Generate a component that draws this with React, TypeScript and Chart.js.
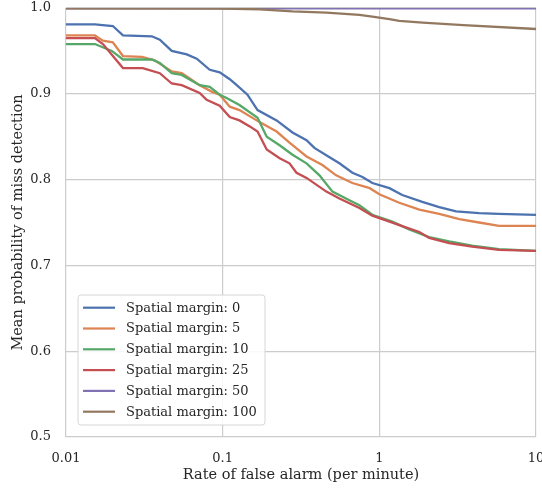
import React, { useEffect, useRef } from "react";
import { Chart, registerables } from "chart.js";

Chart.register(...registerables);

// ---- Data ----
const seriesLabels = [
  "Spatial margin: 0",
  "Spatial margin: 5",
  "Spatial margin: 10",
  "Spatial margin: 25",
  "Spatial margin: 50",
  "Spatial margin: 100",
];

const m0X = [0.01, 0.0153, 0.0199, 0.0231, 0.0353, 0.0397, 0.0473, 0.059, 0.0683, 0.0827, 0.0957, 0.111, 0.123, 0.144, 0.167, 0.221, 0.279, 0.343, 0.385, 0.481, 0.556, 0.673, 0.78, 0.902, 1.16, 1.4, 1.88, 2.41, 3.09, 4.33, 5.81, 10];
const m0Y = [0.981, 0.981, 0.979, 0.968, 0.967, 0.963, 0.95, 0.946, 0.941, 0.928, 0.925, 0.917, 0.91, 0.899, 0.881, 0.869, 0.855, 0.846, 0.837, 0.826, 0.819, 0.808, 0.803, 0.796, 0.79, 0.782, 0.774, 0.768, 0.763, 0.761, 0.76, 0.759];

const m5X = [0.01, 0.0153, 0.0172, 0.0199, 0.0231, 0.0305, 0.0368, 0.0473, 0.0548, 0.0713, 0.0862, 0.0957, 0.111, 0.128, 0.172, 0.221, 0.267, 0.343, 0.433, 0.53, 0.673, 0.868, 1.0, 1.34, 1.8, 2.41, 3.24, 4.33, 5.81, 10];
const m5Y = [0.968, 0.968, 0.962, 0.96, 0.944, 0.943, 0.939, 0.926, 0.924, 0.91, 0.902, 0.899, 0.885, 0.881, 0.867, 0.856, 0.843, 0.827, 0.817, 0.805, 0.796, 0.79, 0.783, 0.773, 0.765, 0.76, 0.754, 0.75, 0.746, 0.746];

const m10X = [0.01, 0.0153, 0.0196, 0.0231, 0.0353, 0.0397, 0.0473, 0.0548, 0.0713, 0.0827, 0.0957, 0.106, 0.128, 0.167, 0.191, 0.231, 0.279, 0.343, 0.415, 0.502, 0.644, 0.746, 0.902, 1.21, 1.55, 2.08, 2.79, 3.91, 5.81, 10];
const m10Y = [0.958, 0.958, 0.95, 0.94, 0.94, 0.936, 0.924, 0.922, 0.91, 0.908, 0.899, 0.895, 0.887, 0.872, 0.85, 0.84, 0.829, 0.819, 0.805, 0.786, 0.776, 0.77, 0.759, 0.751, 0.742, 0.733, 0.728, 0.723, 0.719, 0.717];

const m25X = [0.01, 0.0153, 0.0172, 0.0231, 0.0309, 0.0397, 0.0473, 0.0548, 0.0713, 0.079, 0.0957, 0.111, 0.128, 0.149, 0.167, 0.191, 0.231, 0.267, 0.296, 0.343, 0.459, 0.556, 0.746, 0.902, 1.16, 1.49, 1.8, 2.08, 2.79, 3.91, 5.81, 10];
const m25Y = [0.965, 0.965, 0.958, 0.93, 0.93, 0.924, 0.912, 0.91, 0.901, 0.893, 0.886, 0.873, 0.869, 0.862, 0.856, 0.835, 0.825, 0.819, 0.808, 0.802, 0.786, 0.778, 0.767, 0.758, 0.751, 0.744, 0.739, 0.732, 0.726, 0.722, 0.718, 0.717];

const m50X = [0.01, 0.1, 1, 10];
const m50Y = [0.9995, 0.9995, 0.9995, 0.9995];

const m100X = [0.01, 0.1, 0.172, 0.279, 0.459, 0.746, 0.902, 1.16, 1.34, 1.89, 3.44, 10];
const m100Y = [0.9995, 0.9993, 0.9985, 0.996, 0.9945, 0.992, 0.99, 0.987, 0.985, 0.983, 0.98, 0.9755];

const seriesX = [m0X, m5X, m10X, m25X, m50X, m100X];
const seriesY = [m0Y, m5Y, m10Y, m25Y, m50Y, m100Y];

const xTickValues = [0.01, 0.1, 1, 10];
const xTickLabels = ["0.01", "0.1", "1", "10"];
const yTickValues = [0.5, 0.6, 0.7, 0.8, 0.9, 1.0];
const yTickLabels = ["0.5", "0.6", "0.7", "0.8", "0.9", "1.0"];

const colors = ["#4c72b0", "#dd8452", "#55a868", "#c44e52", "#8172b3", "#937860"];

const FONT = "'DejaVu Serif', serif";
const TEXT = "#262626";

const legendPlugin = {
  id: "insideLegend",
  afterDraw(chart: any) {
    const ctx = chart.ctx;
    const bx = 78, by = 295, bw = 187, bh = 130, r = 3;
    ctx.save();
    ctx.beginPath();
    ctx.moveTo(bx + r, by);
    ctx.lineTo(bx + bw - r, by);
    ctx.arcTo(bx + bw, by, bx + bw, by + r, r);
    ctx.lineTo(bx + bw, by + bh - r);
    ctx.arcTo(bx + bw, by + bh, bx + bw - r, by + bh, r);
    ctx.lineTo(bx + r, by + bh);
    ctx.arcTo(bx, by + bh, bx, by + bh - r, r);
    ctx.lineTo(bx, by + r);
    ctx.arcTo(bx, by, bx + r, by, r);
    ctx.closePath();
    ctx.fillStyle = "rgba(255,255,255,0.85)";
    ctx.fill();
    ctx.strokeStyle = "#d6d6d6";
    ctx.lineWidth = 1;
    ctx.stroke();
    ctx.font = "13px " + FONT;
    ctx.textBaseline = "middle";
    ctx.textAlign = "left";
    chart.data.datasets.forEach((ds: any, i: number) => {
      const cy = by + 12.7 + i * 20.8;
      ctx.strokeStyle = ds.borderColor;
      ctx.lineWidth = 2.2;
      ctx.beginPath();
      ctx.moveTo(83, cy);
      ctx.lineTo(115, cy);
      ctx.stroke();
      ctx.fillStyle = TEXT;
      ctx.fillText(ds.label, 126, cy + 0.5);
    });
    ctx.restore();
  },
};

export default function App() {
  const ref = useRef<HTMLCanvasElement>(null);
  useEffect(() => {
    if (!ref.current) return;
    const datasets = seriesLabels.map((label, i) => ({
      label,
      data: seriesX[i].map((x, j) => ({ x, y: seriesY[i][j] })),
      borderColor: colors[i],
      backgroundColor: colors[i],
      borderWidth: 2.3,
      pointRadius: 0,
      tension: 0,
      fill: false,
      order: seriesLabels.length - i,
    }));
    const chart = new Chart(ref.current, {
      type: "line",
      data: { datasets },
      plugins: [legendPlugin],
      options: {
        animation: false,
        responsive: false,
        maintainAspectRatio: false,
        layout: { padding: { left: 0, top: 8, right: 6, bottom: 0 } },
        plugins: { legend: { display: false }, tooltip: { enabled: false } },
        scales: {
          x: {
            type: "logarithmic",
            min: 0.01,
            max: 10,
            afterBuildTicks: (scale: any) => {
              scale.ticks = xTickValues.map((v) => ({ value: v }));
            },
            afterFit: (scale: any) => {
              scale.height = 55;
              scale.paddingLeft = 0;
              scale.paddingRight = 0;
            },
            ticks: {
              autoSkip: false,
              maxRotation: 0,
              padding: 14,
              color: TEXT,
              font: { family: FONT, size: 13 },
              callback: (value: any) => {
                const idx = xTickValues.findIndex((v) => Math.abs(v - Number(value)) < 1e-9);
                return idx >= 0 ? xTickLabels[idx] : "";
              },
            },
            grid: { color: "#cccccc", lineWidth: 1.2, drawTicks: false },
            border: { display: false },
            title: {
              display: true,
              text: "Rate of false alarm (per minute)",
              color: TEXT,
              font: { family: FONT, size: 14.5 },
              padding: { top: 0, bottom: 8 },
            },
          },
          y: {
            type: "linear",
            min: 0.5,
            max: 1.0,
            afterBuildTicks: (scale: any) => {
              scale.ticks = yTickValues.map((v) => ({ value: v }));
            },
            afterFit: (scale: any) => {
              scale.width = 66;
              scale.paddingTop = 0;
              scale.paddingBottom = 0;
            },
            ticks: {
              padding: 15,
              color: TEXT,
              font: { family: FONT, size: 13 },
              callback: (value: any) => {
                const idx = yTickValues.findIndex((v) => Math.abs(v - Number(value)) < 1e-9);
                return idx >= 0 ? yTickLabels[idx] : "";
              },
            },
            grid: { color: "#cccccc", lineWidth: 1.2, drawTicks: false },
            border: { display: false },
            title: {
              display: true,
              text: "Mean probability of miss detection",
              color: TEXT,
              font: { family: FONT, size: 14.5 },
              padding: { top: 10, bottom: 0 },
            },
          },
        },
      },
    });
    return () => chart.destroy();
  }, []);
  return (
    <div style={{ position: "fixed", left: 0, top: 0, width: 542, height: 492, background: "#fff" }}>
      <canvas ref={ref} width={542} height={492} style={{ display: "block", width: 542, height: 492 }} />
    </div>
  );
}
